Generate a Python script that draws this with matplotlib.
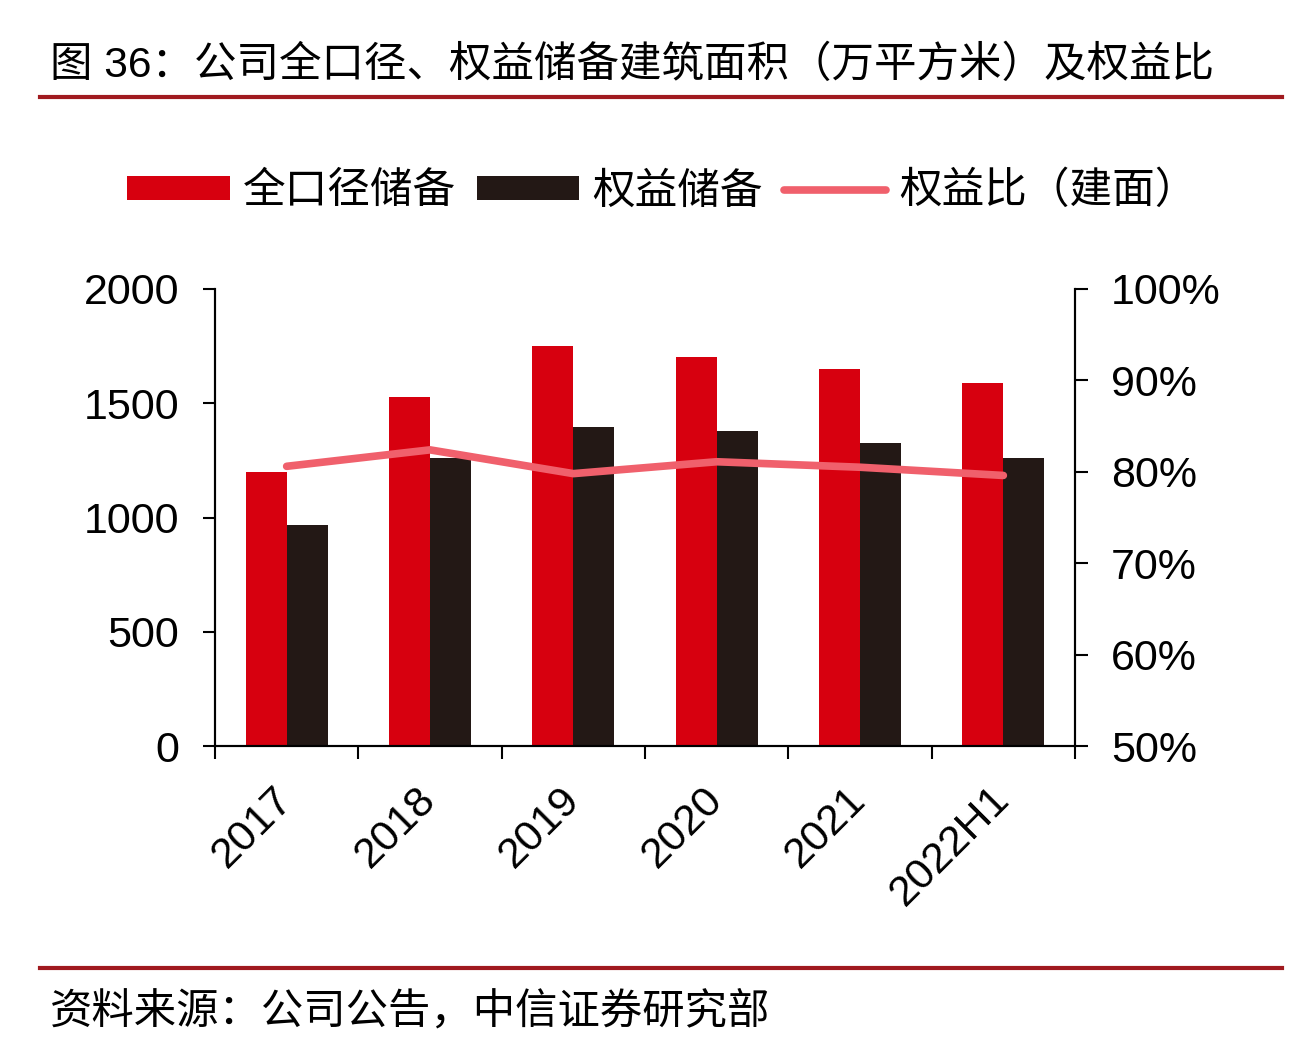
import matplotlib
matplotlib.use("Agg")
import matplotlib.pyplot as plt
from matplotlib.patches import Patch
from matplotlib.lines import Line2D
import numpy as np

plt.rcParams['font.family'] = ['Liberation Sans', 'Noto Sans CJK SC', 'DejaVu Sans']

categories = ['2017', '2018', '2019', '2020', '2021', '2022H1']
total_reserve = [1200, 1528, 1750, 1702, 1650, 1590]
equity_reserve = [967, 1260, 1396, 1378, 1326, 1262]
equity_ratio = [80.6, 82.4, 79.8, 81.1, 80.5, 79.6]
left_ticks = [0, 500, 1000, 1500, 2000]
right_ticks = [50, 60, 70, 80, 90, 100]

title = '图 36：公司全口径、权益储备建筑面积（万平方米）及权益比'
source = '资料来源：公司公告，中信证券研究部'
legend_labels = ['全口径储备', '权益储备', '权益比（建面）']

RED = '#D7000F'
BLACK = '#231815'
PINK = '#F0606C'
DARKRED = '#A01A1F'

W, H = 1304, 1050
fig = plt.figure(figsize=(W / 100, H / 100), dpi=100)

ax = fig.add_axes([215 / W, 1 - 746 / H, (1075 - 215) / W, (746 - 289) / H])
x = np.arange(len(categories))
bw = 0.285
ax.bar(x - bw / 2, total_reserve, width=bw, color=RED, zorder=2)
ax.bar(x + bw / 2, equity_reserve, width=bw, color=BLACK, zorder=2)
ax.set_xlim(-0.5, len(categories) - 0.5)
ax.set_ylim(0, 2000)
ax.set_yticks(left_ticks)
ax.set_yticklabels([str(v) for v in left_ticks])

ax.set_xticks(np.arange(len(categories) + 1) - 0.5)
ax.set_xticklabels([])
ax.set_xticks(x, minor=True)
ax.set_xticklabels(categories, minor=True, rotation=45, ha='right', va='center',
                   rotation_mode='anchor', fontsize=31)
ax.tick_params(axis='x', which='minor', length=0, pad=34)
ax.tick_params(axis='x', which='major', length=9, width=1.5, direction='out')
ax.tick_params(axis='y', length=9, width=1.5, direction='out', labelsize=31, pad=17)

for s in ['left', 'bottom', 'right']:
    ax.spines[s].set_linewidth(1.5)
ax.spines['top'].set_visible(False)
ax.patch.set_alpha(0)

ax2 = ax.twinx()
ax2.plot(x, equity_ratio, color=PINK, lw=5.5, solid_capstyle='round', zorder=3)
ax2.set_ylim(50, 100)
ax2.set_yticks(right_ticks)
ax2.set_yticklabels([f'{v}%' for v in right_ticks])
ax2.tick_params(axis='y', length=9, width=1.5, direction='out', labelsize=31, pad=17)
for s in ['left', 'bottom', 'right']:
    ax2.spines[s].set_linewidth(1.5)
ax2.spines['top'].set_visible(False)

handles = [Patch(facecolor=RED, edgecolor='none'),
           Patch(facecolor=BLACK, edgecolor='none'),
           Line2D([0], [0], color=PINK, lw=5.5, solid_capstyle='round')]
fig.legend(handles, legend_labels, loc='center', bbox_to_anchor=(0.508, 1 - 192 / H),
           ncol=3, frameon=False, fontsize=30.7, handlelength=2.4, handleheight=0.5,
           handletextpad=0.3, columnspacing=0.5)

fig.text(50 / W, 1 - 66 / H, title, fontsize=30.6, va='center', ha='left')
fig.add_artist(Line2D([40 / W, 1282 / W], [1 - 97 / H, 1 - 97 / H], color=DARKRED, lw=3))
fig.add_artist(Line2D([40 / W, 1282 / W], [1 - 968 / H, 1 - 968 / H], color=DARKRED, lw=3))
fig.text(50 / W, 1 - 1012 / H, source, fontsize=30.5, va='center', ha='left')

fig.savefig('out.png', dpi=100, facecolor='white')
